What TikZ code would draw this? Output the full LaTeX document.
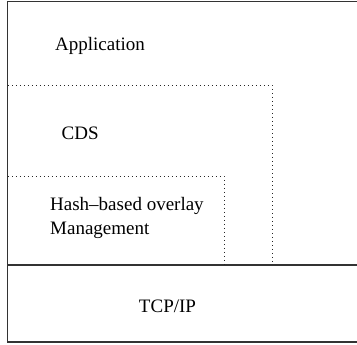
\documentclass[tikz,border=0pt]{standalone}
\usepackage{fontspec}
\setmainfont{Liberation Serif}
\begin{document}
\begin{tikzpicture}[x=1pt,y=1pt,
  frame/.style={line width=1.1pt,draw=black!80},
  layerline/.style={line width=0.8pt,draw=black!85,dash pattern=on 0.8pt off 3.2pt},
  label/.style={font=\fontsize{19}{24}\selectfont,inner sep=0pt}]
\useasboundingbox (0,0) rectangle (357,345);
% outer frame, open on the right
\draw[frame] (357,343.5) -- (7.5,343.5) -- (7.5,3) -- (357,3);
\draw[frame] (7.5,80) -- (357,80);
% dotted layer boundaries
\draw[layerline] (8,260) -- (272,260) -- (272,80);
\draw[layerline] (8,169) -- (224,169) -- (224,80);
% layer labels
\node[label,anchor=base west] (app) at (55,294) {Application};
\node[label,anchor=base west] (cds) at (61.5,205.7) {CDS};
\node[label,anchor=base west] (hash) at (50,134) {Hash–based overlay};
\node[label,anchor=base west] (mgmt) at (50,110) {Management};
\node[label,anchor=base] (tcp) at (167.5,32) {TCP/IP};
\end{tikzpicture}
\end{document}
